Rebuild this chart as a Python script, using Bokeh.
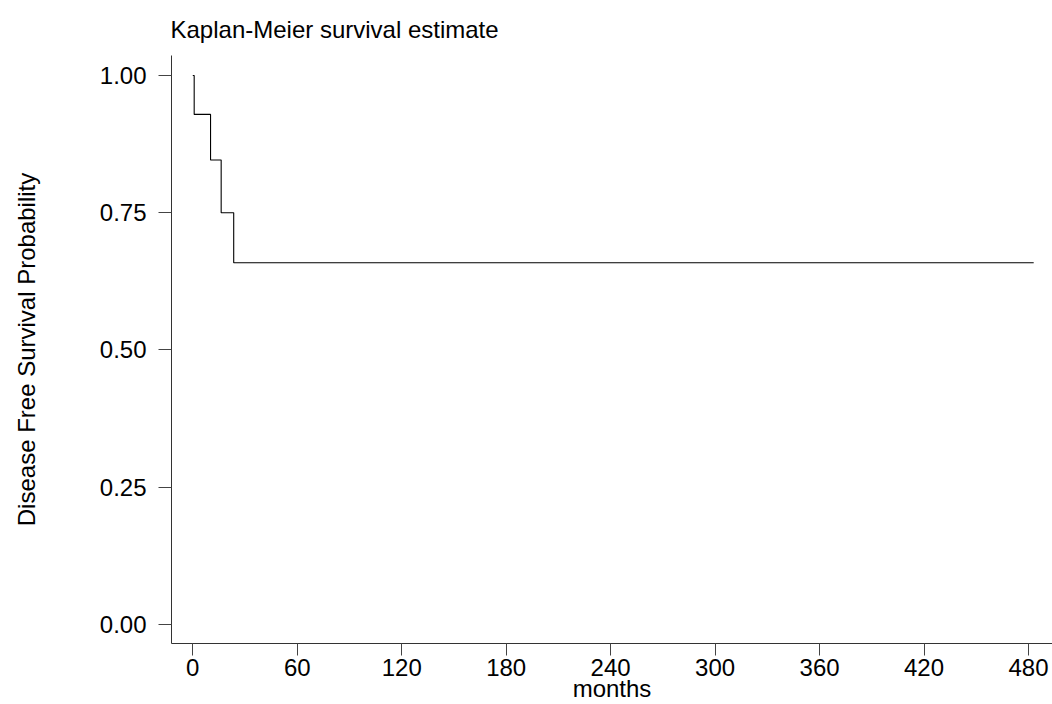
from bokeh.plotting import figure
from bokeh.models import FixedTicker, NumeralTickFormatter, Range1d
from bokeh.embed import file_html
from bokeh.resources import INLINE

# Kaplan-Meier step data (months, survival probability)
times = [0, 0.8, 10.2, 16.3, 23.5, 483]
surv = [1.0, 0.929, 0.846, 0.750, 0.659, 0.659]

x_ticks = [0, 60, 120, 180, 240, 300, 360, 420, 480]
y_ticks = [0.0, 0.25, 0.50, 0.75, 1.00]

title_text = "Kaplan-Meier survival estimate"
x_label = "months"
y_label = "Disease Free Survival Probability"

FONT = "Liberation Sans"

p = figure(width=1052, height=704, output_backend="svg", toolbar_location=None,
           x_range=Range1d(-12.23, 493.8), y_range=Range1d(-0.0345, 1.0363),
           min_border_left=171, min_border_right=0, min_border_top=54,
           min_border_bottom=60, title=title_text)

p.step(x=times, y=surv, mode="after", line_color="black", line_width=1.1)

p.outline_line_color = None
p.background_fill_color = "white"
p.border_fill_color = "white"
p.xgrid.visible = False
p.ygrid.visible = False

p.title.text_font = FONT
p.title.text_font_size = "24px"
p.title.text_font_style = "normal"
p.title.text_color = "black"
p.title.align = "left"
p.title.offset = -1
p.title.standoff = 26

for ax in (p.xaxis[0], p.yaxis[0]):
    ax.axis_line_color = "#333333"
    ax.axis_line_width = 1
    ax.major_tick_line_color = "#444444"
    ax.minor_tick_line_color = None
    ax.major_tick_in = 0
    ax.major_label_text_font = FONT
    ax.major_label_text_font_size = "24px"
    ax.major_label_text_color = "black"
    ax.axis_label_text_font = FONT
    ax.axis_label_text_font_size = "24px"
    ax.axis_label_text_font_style = "normal"
    ax.axis_label_text_color = "black"

p.xaxis.ticker = FixedTicker(ticks=x_ticks)
p.xaxis.major_tick_out = 12
p.xaxis.major_label_standoff = 3
p.xaxis.axis_label = x_label
p.xaxis.axis_label_standoff = -4

p.yaxis.ticker = FixedTicker(ticks=y_ticks)
p.yaxis.formatter = NumeralTickFormatter(format="0.00")
p.yaxis.major_tick_out = 13
p.yaxis.major_label_standoff = 12
p.yaxis.axis_label = y_label
p.yaxis.axis_label_standoff = 57

open("out.html", "w").write(file_html(p, INLINE))
